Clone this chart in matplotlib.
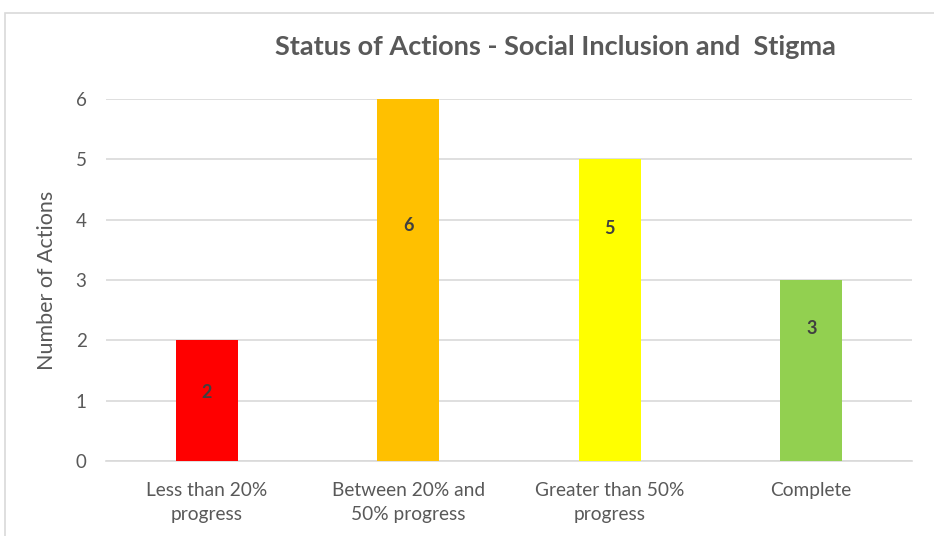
import matplotlib.pyplot as plt
from matplotlib.patches import Rectangle

categories = ["Less than 20%\nprogress", "Between 20% and\n50% progress",
              "Greater than 50%\nprogress", "Complete"]
values = [2, 6, 5, 3]
colors = ["#FF0000", "#FFC000", "#FFFF00", "#92D050"]
# where the value labels sit inside each bar (data units)
label_y = [1.13, 3.91, 3.85, 2.2]

plt.rcParams['font.family'] = ['Lato', 'DejaVu Sans']

fig = plt.figure(figsize=(9.34, 5.36), dpi=100)
fig.patches.append(Rectangle((5 / 934, -0.05), 1.0, (536 - 13) / 536 + 0.05,
                             transform=fig.transFigure, fill=False,
                             edgecolor="#D9D9D9", linewidth=1.2))

ax = fig.add_axes([106 / 934, 75 / 536, 806 / 934, 362 / 536])
x = range(len(values))
ax.bar(x, values, width=0.31, color=colors, zorder=3)
for i, v in enumerate(values):
    ax.text(i, label_y[i], str(v), ha="center", va="center",
            fontsize=13, fontweight="bold", color="#404040", zorder=4)

ax.set_xlim(-0.5, 3.5)
ax.set_ylim(0, 6)
ax.set_yticks(range(7))
ax.set_xticks(list(x))
ax.set_xticklabels(categories, fontsize=13.8, color="#595959", linespacing=1.5)
ax.tick_params(axis="y", labelsize=13.5, labelcolor="#595959", length=0, pad=14)
ax.tick_params(axis="x", length=0, pad=15)
ax.grid(axis="y", color="#D9D9D9", linewidth=1.2, zorder=0)
for s in ["top", "right", "left"]:
    ax.spines[s].set_visible(False)
ax.spines["bottom"].set_color("#D9D9D9")
ax.spines["bottom"].set_linewidth(1.2)

fig.text(47 / 934, (536 - 280) / 536, "Number of Actions", rotation=90,
         ha="center", va="center", fontsize=15.5, color="#595959")
fig.text(555 / 934, (536 - 47) / 536, "Status of Actions - Social Inclusion and  Stigma",
         ha="center", va="center", fontsize=19.5, fontweight="bold", color="#595959")

fig.savefig("out.png", dpi=100)
